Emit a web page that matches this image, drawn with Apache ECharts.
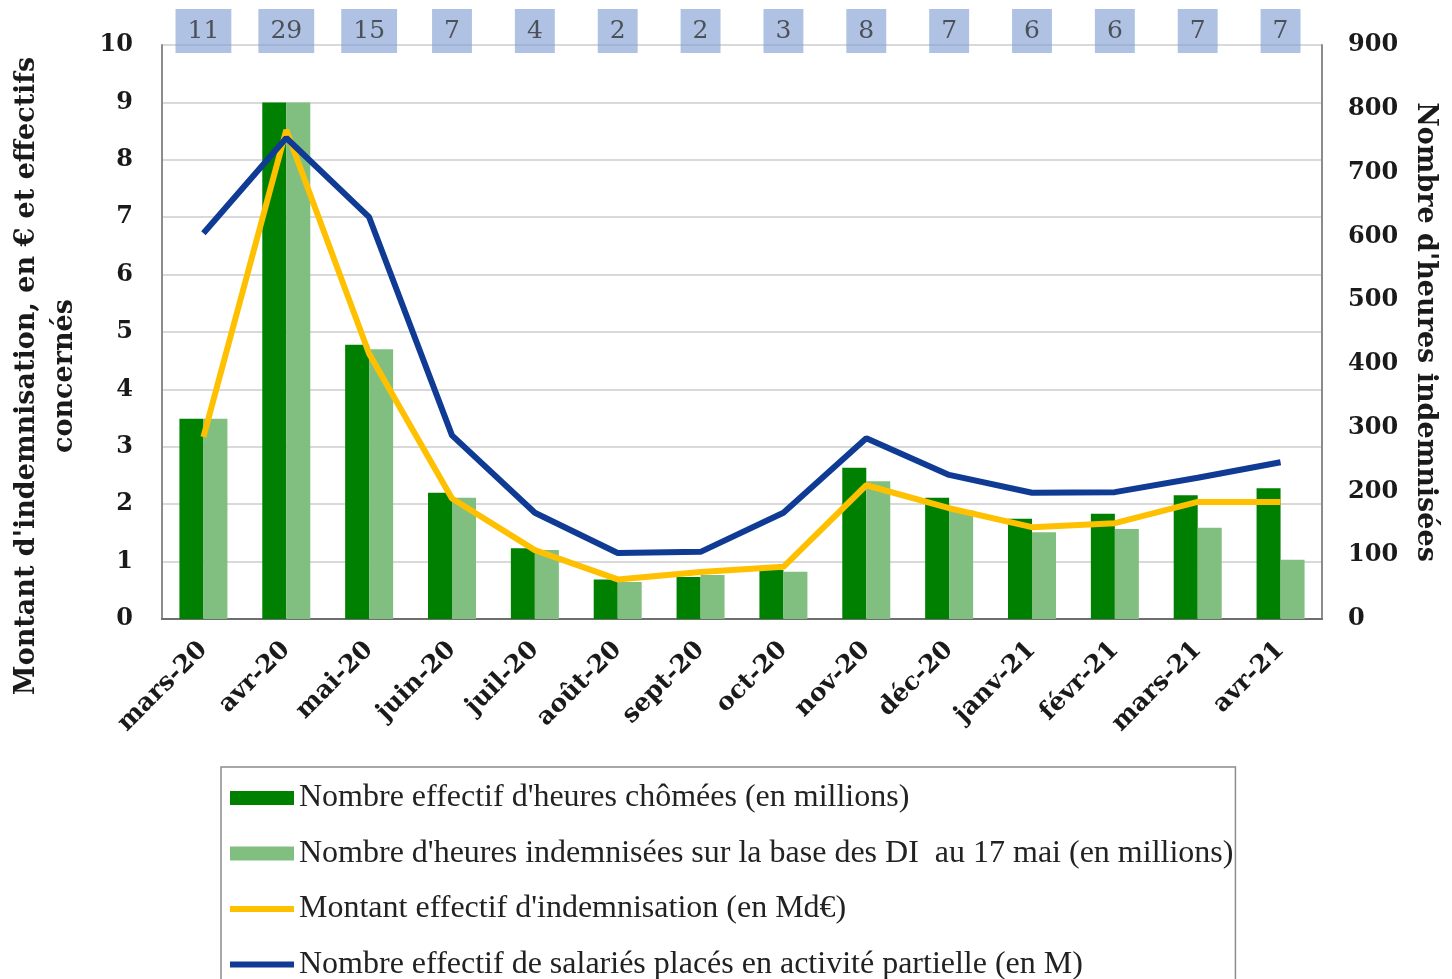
<!DOCTYPE html>
<html>
<head>
<meta charset="utf-8">
<title>Activité partielle</title>
<script src="https://cdn.jsdelivr.net/npm/echarts@6/dist/echarts.min.js"></script>
<style>
  html, body { margin: 0; padding: 0; background: #fff; }
  #chart { width: 1452px; height: 979px; }
</style>
</head>
<body>
<div id="chart"></div>
<script>
// categories (mois)
var months = ['mars-20', 'avr-20', 'mai-20', 'juin-20', 'juil-20', 'août-20', 'sept-20',
  'oct-20', 'nov-20', 'déc-20', 'janv-21', 'févr-21', 'mars-21', 'avr-21'];

// heures, en millions (axe de droite)
var heuresChomees = [314, 810, 430, 198, 111, 62, 66, 77, 237, 190, 157, 165, 194, 205];
var heuresIndemnisees = [314, 810, 423, 190, 108, 58, 69, 74, 216, 170, 136, 141, 143, 93];

// axe de gauche
var montantMdEur = [3.17, 8.52, 4.62, 2.1, 1.2, 0.69, 0.82, 0.91, 2.33, 1.93, 1.6, 1.67, 2.04, 2.04];
var salariesM = [6.72, 8.38, 7.0, 3.2, 1.85, 1.15, 1.17, 1.85, 3.15, 2.51, 2.2, 2.21, 2.46, 2.73];

// valeurs dans les cases du haut
var topBoxes = [11, 29, 15, 7, 4, 2, 2, 3, 8, 7, 6, 6, 7, 7];

var leftMax = 10;
var rightMax = 900;

var names = [
  "Nombre effectif d'heures chômées (en millions)",
  "Nombre d'heures indemnisées sur la base des DI  au 17 mai (en millions)",
  "Montant effectif d'indemnisation (en Md€)",
  "Nombre effectif de salariés placés en activité partielle (en M)"
];

var serif = 'DejaVu Serif';
var axisGray = '#8c8c8c';
var lineIcon = 'path://M0,0 L64,0 L64,6 L0,6 Z';

var chart = echarts.init(document.getElementById('chart'));

var option = {
  backgroundColor: '#fff',
  animation: false,
  grid: { left: 162, right: 130, top: 45, bottom: 360, outerBoundsMode: 'none', containLabel: false },
  legend: {
    orient: 'vertical',
    left: 221,
    top: 767,
    height: 300,
    padding: [15, 2, 30, 9],
    itemGap: 23.5,
    itemWidth: 64,
    itemHeight: 14,
    borderColor: '#8c8c8c',
    borderWidth: 1.5,
    textStyle: { fontFamily: 'Liberation Serif', fontSize: 32, color: '#222' },
    data: [
      { name: names[0], icon: 'rect' },
      { name: names[1], icon: 'rect' },
      { name: names[2], icon: lineIcon },
      { name: names[3], icon: lineIcon }
    ]
  },
  xAxis: [
    {
      type: 'category',
      data: months,
      axisLine: { lineStyle: { color: axisGray, width: 2 } },
      axisTick: { show: false },
      axisLabel: {
        rotate: 45,
        margin: 27,
        fontFamily: serif,
        fontWeight: 'bold',
        fontSize: 25,
        color: '#1a1a1a'
      }
    },
    {
      // trait du haut du cadre
      type: 'category',
      data: months,
      position: 'top',
      axisLine: { lineStyle: { color: '#6e6e6e', width: 2 } },
      axisTick: { show: false },
      axisLabel: { show: false }
    }
  ],
  yAxis: [
    {
      type: 'value',
      min: 0,
      max: leftMax,
      interval: 1,
      name: "Montant d'indemnisation, en € et effectifs\nconcernés",
      nameLocation: 'middle',
      nameGap: 78,
      nameTextStyle: {
        fontFamily: serif,
        fontWeight: 'bold',
        fontSize: 27,
        lineHeight: 38,
        color: '#1a1a1a',
        padding: [0, 88, 0, 0]
      },
      axisLine: { show: true, lineStyle: { color: axisGray, width: 2 } },
      axisTick: { show: false },
      axisLabel: { margin: 29, fontFamily: serif, fontWeight: 'bold', fontSize: 24, color: '#1a1a1a' },
      splitLine: { lineStyle: { color: '#d9d9d9', width: 2 } }
    },
    {
      type: 'value',
      min: 0,
      max: rightMax,
      interval: 100,
      name: "Nombre d'heures indemnisées",
      nameLocation: 'middle',
      nameRotate: -90,
      nameGap: 90,
      nameTextStyle: { fontFamily: serif, fontWeight: 'bold', fontSize: 27, color: '#1a1a1a' },
      axisLine: { show: true, lineStyle: { color: axisGray, width: 2 } },
      axisTick: { show: false },
      axisLabel: { margin: 26, fontFamily: serif, fontWeight: 'bold', fontSize: 24, color: '#1a1a1a' },
      splitLine: { show: false }
    }
  ],
  series: [
    {
      name: names[0],
      type: 'bar',
      yAxisIndex: 1,
      barWidth: 24,
      barGap: '0%',
      itemStyle: { color: '#008000' },
      data: heuresChomees
    },
    {
      name: names[1],
      type: 'bar',
      yAxisIndex: 1,
      barWidth: 24,
      barGap: '0%',
      itemStyle: { color: '#80bf80' },
      data: heuresIndemnisees
    },
    {
      name: names[2],
      type: 'line',
      yAxisIndex: 0,
      symbol: 'none',
      lineStyle: { color: '#ffc000', width: 6 },
      itemStyle: { color: '#ffc000' },
      z: 3,
      data: montantMdEur
    },
    {
      name: names[3],
      type: 'line',
      yAxisIndex: 0,
      symbol: 'none',
      lineStyle: { color: '#103b95', width: 6 },
      itemStyle: { color: '#103b95' },
      z: 4,
      data: salariesM
    },
    {
      name: 'cases',
      type: 'scatter',
      yAxisIndex: 0,
      symbolSize: 0,
      clip: false,
      z: 5,
      data: topBoxes.map(function (v, i) { return [i, leftMax]; }),
      label: {
        show: true,
        position: 'inside',
        offset: [0, -14],
        formatter: function (p) { return String(topBoxes[p.dataIndex]); },
        backgroundColor: 'rgba(128,157,210,0.78)',
        padding: [8, 12, 6, 12],
        lineHeight: 30,
        fontFamily: serif,
        fontSize: 25,
        color: '#333'
      }
    }
  ]
};

chart.setOption(option);
</script>
</body>
</html>
